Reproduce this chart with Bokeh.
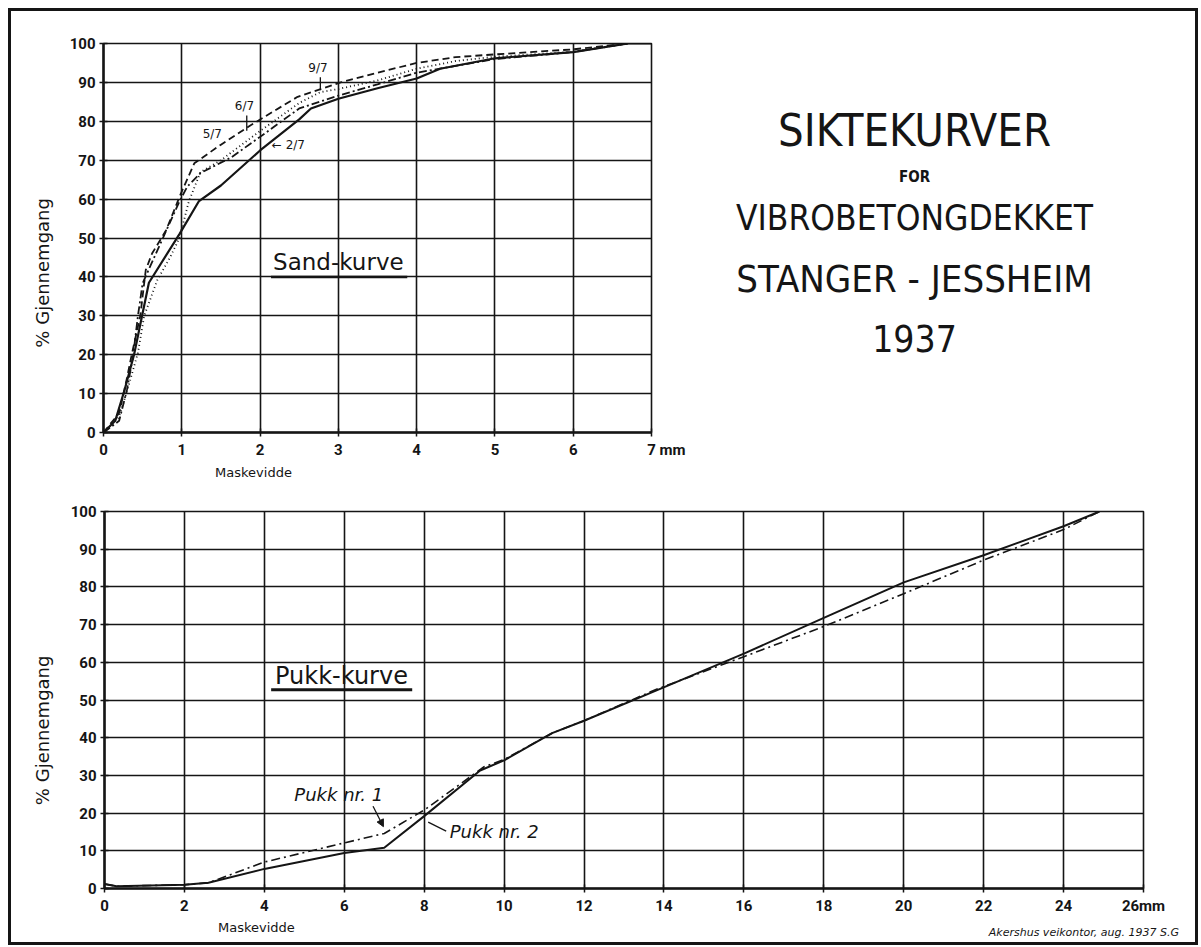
from math import pi
from bokeh.plotting import figure
from bokeh.layouts import column, row
from bokeh.models import FixedTicker, Label, Arrow, NormalHead
from bokeh.embed import file_html
from bokeh.resources import INLINE

# ---------------- data ----------------
sand_x_ticks = [0, 1, 2, 3, 4, 5, 6, 7]
pukk_x_ticks = list(range(0, 27, 2))
pct_ticks = list(range(0, 101, 10))
sand_tick_overrides = {7: "\u00a0" * 8 + "7 mm"}
pukk_tick_overrides = {26: "26mm"}

# Sand curves (mesh width mm -> % passing)
sand_27_x = [0, 0.15, 0.27, 0.39, 0.58, 0.97, 1.22, 1.5, 2.0, 2.5, 2.65, 3.0, 3.5, 4.0, 4.3, 5.0, 6.0, 6.7, 7.0]
sand_27_y = [0, 3, 11, 20, 38.5, 51, 59.5, 63.5, 72.5, 80.5, 83.3, 85.8, 88.5, 91, 93.5, 96.2, 97.8, 100, 100]

sand_57_x = [0, 0.2, 0.3, 0.36, 0.47, 0.54, 0.62, 0.8, 0.99, 1.16, 1.5, 1.88, 2.48, 3.03, 3.5, 4.0, 4.5, 5.0, 6.0, 6.7]
sand_57_y = [0, 5, 14, 20, 30, 41.8, 46, 52, 61.5, 69.2, 74, 79, 86.3, 90, 92.5, 95, 96.5, 97.2, 98.5, 100]

sand_67_x = [0, 0.2, 0.3, 0.38, 0.44, 0.5, 0.71, 0.97, 1.07, 1.24, 1.63, 2.0, 2.5, 3.0, 3.5, 4.0, 5.0, 6.0, 6.7]
sand_67_y = [0, 3, 11, 20, 30, 38.4, 47.8, 59.4, 63.2, 66.7, 70.7, 76.0, 83.3, 86.6, 89.5, 92.5, 96, 97.8, 100]

sand_97_x = [0, 0.2, 0.32, 0.44, 0.52, 0.69, 0.85, 0.97, 1.09, 1.24, 1.5, 2.0, 2.5, 2.77, 3.0, 3.5, 4.0, 4.5, 5.0, 6.0, 6.7]
sand_97_y = [0, 4, 12, 20.5, 30, 39.3, 45, 50, 59.4, 67, 70, 77.5, 84.7, 87.5, 88.3, 90.5, 93.5, 95.5, 96.6, 97.9, 100]

# Pukk curves
pukk2_x = [0, 0.3, 2.0, 2.6, 4.0, 6.0, 7.0, 8.0, 9.4, 10.0, 11.2, 12.0, 13.8, 16.0, 18.0, 20.0, 22.0, 24.0, 24.9]
pukk2_y = [1.2, 0.6, 1.0, 1.5, 5.2, 9.4, 10.8, 19.2, 31.3, 34.0, 41.2, 44.5, 52.5, 62.3, 71.8, 81.2, 88.4, 96.1, 100]

pukk1_x = [0, 0.3, 2.0, 2.6, 4.0, 6.0, 7.0, 8.0, 9.5, 10.0, 11.2, 12.0, 13.8, 16.0, 18.0, 20.0, 22.0, 24.0, 24.9]
pukk1_y = [1.2, 0.6, 1.0, 1.5, 7.0, 12.1, 14.6, 20.8, 32.3, 34.2, 41.2, 44.5, 52.8, 61.5, 69.5, 78.2, 87.1, 95.2, 100]

# curve labels (text, x, y, align)
sand_lbl_text = ["9/7", "6/7", "5/7", "\u2190 2/7"]
sand_lbl_x = [2.74, 1.80, 1.39, 2.15]
sand_lbl_y = [93.8, 84.0, 76.7, 73.8]
sand_lbl_align = ["center", "center", "center", "left"]
sand_lead_x = [2.77, 1.83]
sand_lead_y0 = [91.3, 81.5]
sand_lead_y1 = [88.0, 77.6]

title_lines = ["SIKTEKURVER", "FOR", "VIBROBETONGDEKKET", "STANGER - JESSHEIM", "1937"]
title_y = [351, 305, 264, 203, 143]
title_size = ["45px", "15px", "35px", "38px", "37px"]

INK = "#151515"
TICKF = "Roboto"
TITLEF = "DejaVu Sans Condensed, Roboto"
PLAIN = "DejaVu Sans"


def style_chart(p, xticks, overrides):
    p.xaxis.ticker = FixedTicker(ticks=xticks)
    p.yaxis.ticker = FixedTicker(ticks=pct_ticks)
    p.xaxis.major_label_overrides = overrides
    for ax in (p.xaxis[0], p.yaxis[0]):
        ax.axis_line_color = INK
        ax.axis_line_width = 2.5
        ax.major_tick_line_color = INK
        ax.major_tick_line_width = 1.5
        ax.major_tick_in = 4
        ax.major_tick_out = 4
        ax.minor_tick_line_color = None
        ax.major_label_text_font = TICKF
        ax.major_label_text_font_style = "bold"
        ax.major_label_text_font_size = "15px"
        ax.major_label_text_color = INK
        ax.major_label_standoff = 4
    p.grid.grid_line_color = INK
    p.grid.grid_line_width = 1.6
    p.grid.grid_line_alpha = 1.0
    p.outline_line_color = INK
    p.outline_line_width = 1.6
    p.background_fill_color = "white"
    p.border_fill_color = "white"


def strip(w, h):
    s = figure(frame_width=w, frame_height=h, min_border=0, x_range=(0, w), y_range=(0, h),
               x_axis_type=None, y_axis_type=None, toolbar_location=None, output_backend="svg")
    s.outline_line_color = None
    s.background_fill_color = "white"
    s.border_fill_color = "white"
    return s


def txt(fig, x, y, t, size, font=PLAIN, style="normal", align="center", angle=0.0):
    fig.add_layout(Label(x=x, y=y, text=t, text_align=align, text_baseline="middle",
                         text_font=font, text_font_style=style, text_font_size=size,
                         text_color=INK, angle=angle))


# ---------------- top: sand ----------------
p1 = figure(frame_width=548, frame_height=389, min_border_left=42, min_border_right=40,
            min_border_top=32, min_border_bottom=30, x_range=(0, 7), y_range=(0, 100),
            toolbar_location=None, output_backend="svg")
style_chart(p1, sand_x_ticks, sand_tick_overrides)

p1.line(sand_27_x, sand_27_y, line_color=INK, line_width=2.2)
p1.line(sand_57_x, sand_57_y, line_color=INK, line_width=1.8, line_dash="7 4")
p1.line(sand_67_x, sand_67_y, line_color=INK, line_width=1.8, line_dash="8 3 2 3")
p1.line(sand_97_x, sand_97_y, line_color=INK, line_width=1.8, line_dash="1 3")

for t, x, y, a in zip(sand_lbl_text, sand_lbl_x, sand_lbl_y, sand_lbl_align):
    txt(p1, x, y, t, "12px", align=a)
p1.segment(x0=sand_lead_x, y0=sand_lead_y0, x1=sand_lead_x, y1=sand_lead_y1,
           line_color=INK, line_width=1.3)

txt(p1, 3.0, 43.8, "Sand-kurve", "23px")
p1.segment(x0=[2.14], y0=[40.0], x1=[3.88], y1=[40.0], line_color=INK, line_width=2.5)

a1 = strip(50, 451)
txt(a1, 31, 224.5, "%  Gjennemgang", "18px", angle=pi / 2)

b1 = strip(680, 19)
txt(b1, 242, 9, "Maskevidde", "13px")

top_block = column(row(a1, p1), b1)

# ---------------- title panel ----------------
pt = strip(504, 470)
for t, y, s in zip(title_lines, title_y, title_size):
    txt(pt, 223, y, t, s, font=TITLEF, style="bold" if t == "FOR" else "normal")

# ---------------- bottom: pukk ----------------
p2 = figure(frame_width=1039, frame_height=377, min_border_left=43, min_border_right=52,
            min_border_top=30, min_border_bottom=30, x_range=(0, 26), y_range=(0, 100),
            toolbar_location=None, output_backend="svg")
style_chart(p2, pukk_x_ticks, pukk_tick_overrides)

p2.line(pukk2_x, pukk2_y, line_color=INK, line_width=2.0)
p2.line(pukk1_x, pukk1_y, line_color=INK, line_width=1.6, line_dash="9 4 2 4")

txt(p2, 5.93, 56.4, "Pukk-kurve", "24px")
p2.segment(x0=[4.17], y0=[52.7], x1=[7.7], y1=[52.7], line_color=INK, line_width=3)

txt(p2, 4.75, 25, "Pukk  nr. 1", "18px", style="italic", align="left")
p2.add_layout(Arrow(x_start=6.72, y_start=21.8, x_end=6.98, y_end=16.4, line_color=INK, line_width=1.3,
                    end=NormalHead(size=7, fill_color=INK, line_color=INK)))
txt(p2, 8.64, 15.2, "Pukk  nr. 2", "18px", style="italic", align="left")
p2.add_layout(Arrow(x_start=8.55, y_start=15.2, x_end=8.1, y_end=17.6, line_color=INK, line_width=1.3,
                    end=None))

a2 = strip(50, 437)
txt(a2, 31, 221, "%  Gjennemgang", "18px", angle=pi / 2)

b2 = strip(1184, 24)
txt(b2, 244.9, 15, "Maskevidde", "13px")
txt(b2, 1178, 10, "Akershus  veikontor,  aug. 1937  S.G", "11px", style="italic", align="right")

layout = column(row(top_block, pt), row(a2, p2), b2,
                styles={"border": "3px solid #151515", "margin": "8px 0 0 8px"})

open("out.html", "w").write(file_html(layout, INLINE))
